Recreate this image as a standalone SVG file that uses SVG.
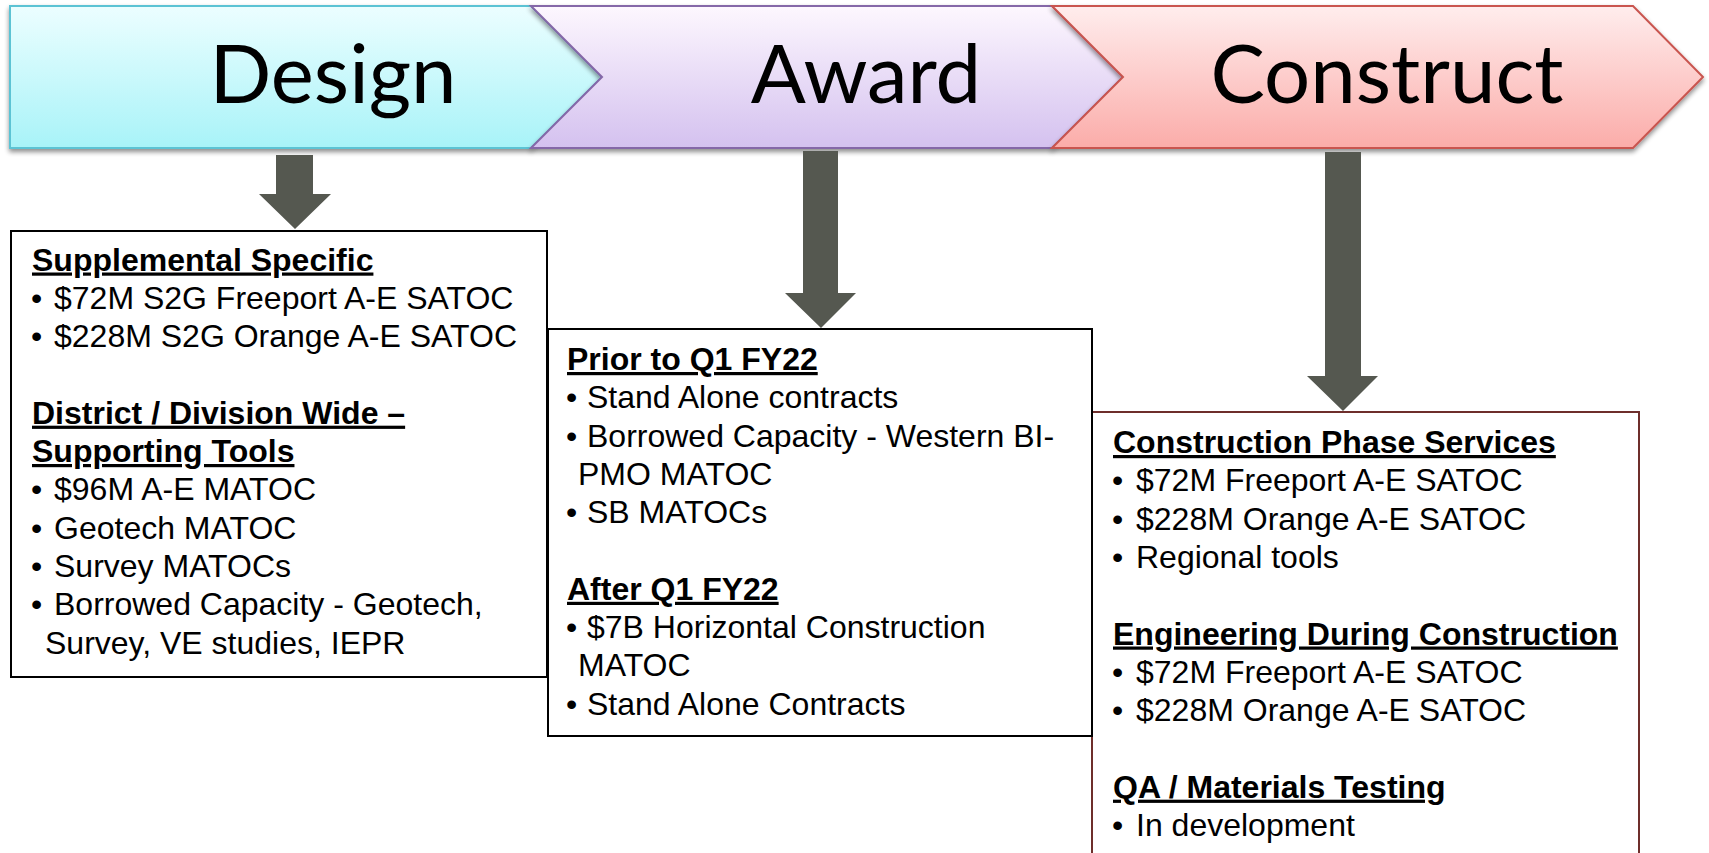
<svg xmlns="http://www.w3.org/2000/svg" width="1709" height="853" viewBox="0 0 1709 853">
  <defs>
    <linearGradient id="gDesign" x1="0" y1="0" x2="0" y2="1">
      <stop offset="0" stop-color="#ecfeff"/>
      <stop offset="1" stop-color="#a8f3f8"/>
    </linearGradient>
    <linearGradient id="gAward" x1="0" y1="0" x2="0" y2="1">
      <stop offset="0" stop-color="#fdf7fe"/>
      <stop offset="1" stop-color="#d4c1ef"/>
    </linearGradient>
    <linearGradient id="gConstruct" x1="0" y1="0" x2="0" y2="1">
      <stop offset="0" stop-color="#ffeded"/>
      <stop offset="1" stop-color="#fbaca9"/>
    </linearGradient>
    <filter id="shadow" x="-5%" y="-10%" width="110%" height="130%">
      <feGaussianBlur in="SourceAlpha" stdDeviation="2.5"/>
      <feOffset dx="0" dy="3" result="b"/>
      <feComponentTransfer><feFuncA type="linear" slope="0.45"/></feComponentTransfer>
      <feMerge><feMergeNode/><feMergeNode in="SourceGraphic"/></feMerge>
    </filter>
  </defs>
  <style>
    .phase { stroke-width: 2; stroke-linejoin: miter; filter: url(#shadow); }
    .label { font-family: Lato, "Open Sans", sans-serif; font-size: 81.5px; fill: #000; text-anchor: middle; }
    .arrow { fill: #555850; }
    .box { fill: #ffffff; stroke: #000000; stroke-width: 2; }
    .boxc { fill: #ffffff; stroke: #6e2e2b; stroke-width: 2; }
    .t { font-family: "Liberation Sans", Arial, sans-serif; font-size: 32px; fill: #000; }
    .h { font-weight: bold; text-decoration: underline; }
  </style>

  <g id="phase-design">
    <polygon class="phase" points="10,6 531,6 602,77 531,148 10,148" fill="url(#gDesign)" stroke="#5cc3d4"/>
    <text class="label" x="333" y="103">Design</text>
  </g>
  <g id="phase-award">
    <polygon class="phase" points="531,6 1052,6 1123,77 1052,148 531,148 602,77" fill="url(#gAward)" stroke="#8567a8"/>
    <text class="label" x="866" y="103">Award</text>
  </g>
  <g id="phase-construct">
    <polygon class="phase" points="1052,6 1633,6 1703,77 1633,148 1052,148 1123,77" fill="url(#gConstruct)" stroke="#c9554f"/>
    <text class="label" x="1387" y="103">Construct</text>
  </g>

  <g id="box-construct">
    <rect class="boxc" x="1092" y="412" width="547" height="470"/>
    <text class="t h" x="1113" y="453">Construction Phase Services</text>
    <text class="t" y="491.3"><tspan x="1112">•</tspan><tspan x="1136">$72M Freeport A-E SATOC</tspan></text>
    <text class="t" y="529.6"><tspan x="1112">•</tspan><tspan x="1136">$228M Orange A-E SATOC</tspan></text>
    <text class="t" y="567.9"><tspan x="1112">•</tspan><tspan x="1136">Regional tools</tspan></text>
    <text class="t h" x="1113" y="644.5">Engineering During Construction</text>
    <text class="t" y="682.8"><tspan x="1112">•</tspan><tspan x="1136">$72M Freeport A-E SATOC</tspan></text>
    <text class="t" y="721.1"><tspan x="1112">•</tspan><tspan x="1136">$228M Orange A-E SATOC</tspan></text>
    <text class="t h" x="1113" y="797.7">QA / Materials Testing</text>
    <text class="t" y="836"><tspan x="1112">•</tspan><tspan x="1136">In development</tspan></text>
  </g>

  <g id="box-award">
    <rect class="box" x="548" y="329" width="544" height="407"/>
    <text class="t h" x="567" y="370">Prior to Q1 FY22</text>
    <text class="t" y="408.3"><tspan x="566">•</tspan><tspan x="587">Stand Alone contracts</tspan></text>
    <text class="t" y="446.6"><tspan x="566">•</tspan><tspan x="587">Borrowed Capacity - Western BI-</tspan></text>
    <text class="t" x="578" y="484.9">PMO MATOC</text>
    <text class="t" y="523.2"><tspan x="566">•</tspan><tspan x="587">SB MATOCs</tspan></text>
    <text class="t h" x="567" y="599.8">After Q1 FY22</text>
    <text class="t" y="638.1"><tspan x="566">•</tspan><tspan x="587">$7B Horizontal Construction</tspan></text>
    <text class="t" x="578" y="676.4">MATOC</text>
    <text class="t" y="714.7"><tspan x="566">•</tspan><tspan x="587">Stand Alone Contracts</tspan></text>
  </g>

  <g id="box-design">
    <rect class="box" x="11" y="231" width="536" height="446"/>
    <text class="t h" x="32" y="270.5">Supplemental Specific</text>
    <text class="t" y="308.8"><tspan x="31">•</tspan><tspan x="54">$72M S2G Freeport A-E SATOC</tspan></text>
    <text class="t" y="347.1"><tspan x="31">•</tspan><tspan x="54">$228M S2G Orange A-E SATOC</tspan></text>
    <text class="t h" x="32" y="423.7">District / Division Wide –</text>
    <text class="t h" x="32" y="462">Supporting Tools</text>
    <text class="t" y="500.3"><tspan x="31">•</tspan><tspan x="54">$96M A-E MATOC</tspan></text>
    <text class="t" y="538.6"><tspan x="31">•</tspan><tspan x="54">Geotech MATOC</tspan></text>
    <text class="t" y="576.9"><tspan x="31">•</tspan><tspan x="54">Survey MATOCs</tspan></text>
    <text class="t" y="615.2"><tspan x="31">•</tspan><tspan x="54">Borrowed Capacity - Geotech,</tspan></text>
    <text class="t" x="45" y="653.5">Survey, VE studies, IEPR</text>
  </g>

  <g id="connectors">
    <polygon class="arrow" points="276,155 313,155 313,194 331,194 295,229 259,194 276,194"/>
    <polygon class="arrow" points="803,151 838,151 838,293 856,293 821,328 785,293 803,293"/>
    <polygon class="arrow" points="1325,152 1361,152 1361,376 1378,376 1343,411 1307,376 1325,376"/>
  </g>
</svg>
